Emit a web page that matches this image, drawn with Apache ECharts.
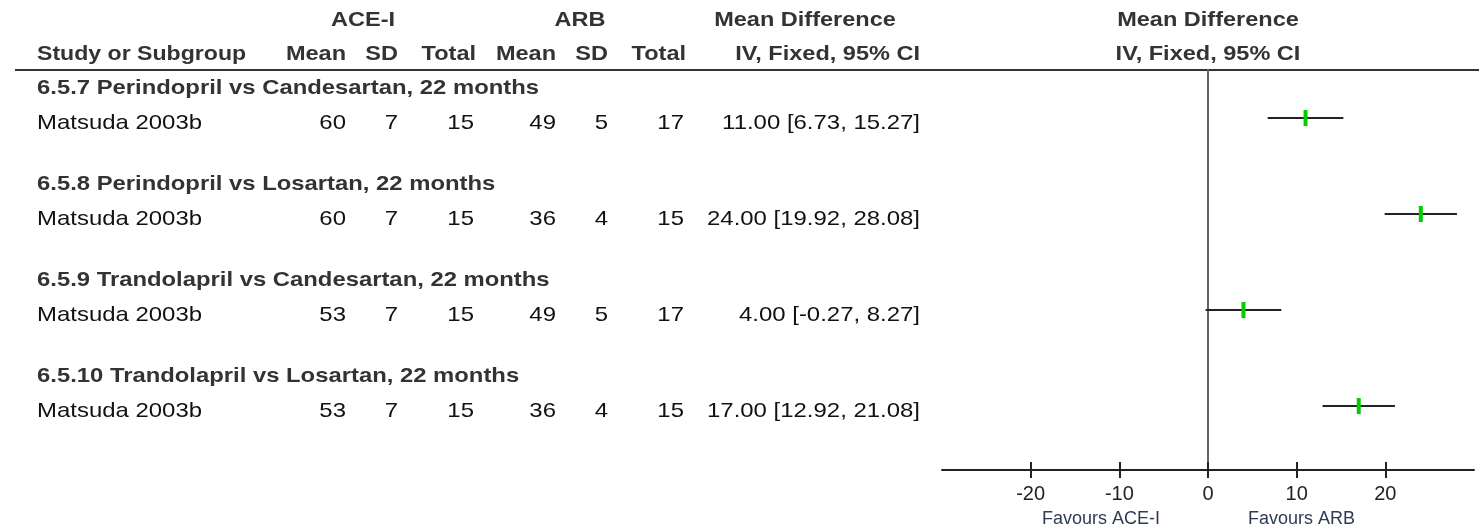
<!DOCTYPE html>
<html>
<head>
<meta charset="utf-8">
<script src="https://cdn.jsdelivr.net/npm/echarts@6/dist/echarts.min.js"></script>
<style>
  html, body { margin: 0; padding: 0; background: #fff; }
  #chart { width: 1479px; height: 532px; }
</style>
</head>
<body>
<div id="chart"></div>
<script>
// Forest plot data: ACE inhibitors vs ARBs, mean difference (IV, fixed, 95% CI)
const subgroups = [
  '6.5.7 Perindopril vs Candesartan, 22 months',
  '6.5.8 Perindopril vs Losartan, 22 months',
  '6.5.9 Trandolapril vs Candesartan, 22 months',
  '6.5.10 Trandolapril vs Losartan, 22 months'
];
const studies = ['Matsuda 2003b', 'Matsuda 2003b', 'Matsuda 2003b', 'Matsuda 2003b'];
const aceMean = [60, 60, 53, 53];
const aceSD = [7, 7, 7, 7];
const aceTotal = [15, 15, 15, 15];
const arbMean = [49, 36, 49, 36];
const arbSD = [5, 4, 5, 4];
const arbTotal = [17, 15, 17, 15];
const meanDiff = [11.00, 24.00, 4.00, 17.00];
const ciLow = [6.73, 19.92, -0.27, 12.92];
const ciHigh = [15.27, 28.08, 8.27, 21.08];
const tickValues = [-20, -10, 0, 10, 20];
const favourLabels = ['Favours ACE-I', 'Favours ARB'];

const FONT = "'Liberation Sans', Arial, sans-serif";
const HEAD_COLOR = '#333';
const TEXT_COLOR = '#111';

function ciText(i) {
  return meanDiff[i].toFixed(2) + ' [' + ciLow[i].toFixed(2) + ', ' + ciHigh[i].toFixed(2) + ']';
}

// text helper: stretched horizontally like the RevMan bitmap fonts
function txt(x, y, text, opt) {
  opt = opt || {};
  return {
    type: 'text',
    x: x, y: y,
    scaleX: opt.scaleX || (opt.bold ? 1.12 : 1.14),
    silent: true,
    style: {
      text: String(text),
      x: 0, y: 0,
      align: opt.align || 'left',
      verticalAlign: 'middle',
      fill: opt.color || (opt.bold ? HEAD_COLOR : TEXT_COLOR),
      font: (opt.bold ? 'bold ' : '') + (opt.size || 21) + 'px ' + FONT
    }
  };
}

// column right edges for table values
const colX = { aceMean: 346, aceSD: 398, aceTotal: 474, arbMean: 556, arbSD: 608, arbTotal: 684, ci: 920 };

const rowIndex = studies.map((s, i) => [0, i]);
const ciData = meanDiff.map((m, i) => [ciLow[i], ciHigh[i], m, i]);

const chart = echarts.init(document.getElementById('chart'), null, { renderer: 'canvas' });

const gridRect = { left: 942, right: 5, top: 70, bottom: 62 };

chart.setOption({
  animation: false,
  backgroundColor: '#fff',
  grid: [
    Object.assign({}, gridRect),
    Object.assign({}, gridRect)
  ],
  xAxis: [
    {
      type: 'value', gridIndex: 0, min: -30, max: 30, interval: 10,
      position: 'bottom',
      axisLine: { show: true, onZero: false, lineStyle: { color: '#222', width: 2 } },
      axisTick: { show: false },
      splitLine: { show: false },
      axisLabel: {
        customValues: tickValues,
        margin: 14,
        color: '#222',
        fontFamily: FONT,
        fontSize: 20
      }
    },
    {
      type: 'value', gridIndex: 1, min: -30, max: 30, interval: 10,
      position: 'bottom',
      offset: -8,
      axisLine: { show: false, onZero: false },
      axisTick: { show: true, customValues: tickValues, length: 16, lineStyle: { color: '#222', width: 2 } },
      splitLine: { show: false },
      axisLabel: { show: false }
    }
  ],
  yAxis: [
    {
      type: 'value', gridIndex: 0, inverse: true, min: -0.5, max: 11 / 3,
      axisLine: { show: true, onZero: true, lineStyle: { color: '#666', width: 2 } },
      axisTick: { show: false }, axisLabel: { show: false }, splitLine: { show: false }
    },
    {
      type: 'value', gridIndex: 1, inverse: true, min: -0.5, max: 11 / 3, show: false
    }
  ],
  graphic: [
    // header rule
    { type: 'line', silent: true, shape: { x1: 15, y1: 70, x2: 1479, y2: 70 }, style: { stroke: '#333', lineWidth: 2 } },
    txt(363, 20, 'ACE-I', { bold: true, align: 'center' }),
    txt(580, 20, 'ARB', { bold: true, align: 'center' }),
    txt(805, 20, 'Mean Difference', { bold: true, align: 'center' }),
    txt(1208, 20, 'Mean Difference', { bold: true, align: 'center' }),
    txt(37, 54, 'Study or Subgroup', { bold: true, scaleX: 1.1 }),
    txt(colX.aceMean, 54, 'Mean', { bold: true, align: 'right' }),
    txt(colX.aceSD, 54, 'SD', { bold: true, align: 'right' }),
    txt(colX.aceTotal + 2, 54, 'Total', { bold: true, align: 'right' }),
    txt(colX.arbMean, 54, 'Mean', { bold: true, align: 'right' }),
    txt(colX.arbSD, 54, 'SD', { bold: true, align: 'right' }),
    txt(colX.arbTotal + 2, 54, 'Total', { bold: true, align: 'right' }),
    txt(colX.ci, 54, 'IV, Fixed, 95% CI', { bold: true, align: 'right' }),
    txt(1208, 54, 'IV, Fixed, 95% CI', { bold: true, align: 'center' }),
    // favours labels under the axis
    txt(1160, 519, favourLabels[0], { align: 'right', size: 18, scaleX: 1.0, color: '#2e3b55' }),
    txt(1248, 519, favourLabels[1], { align: 'left', size: 18, scaleX: 1.0, color: '#2e3b55' })
  ],
  series: [
    {
      // table: subgroup heading + study row, placed on each group's y position
      type: 'custom',
      xAxisIndex: 0, yAxisIndex: 0,
      clip: false,
      silent: true,
      data: rowIndex,
      encode: { x: 0, y: 1 },
      renderItem: function (params, api) {
        const i = api.value(1);
        const yc = api.coord([0, i])[1];
        const yHead = yc - 30;
        const yRow = yc + 5;
        return {
          type: 'group',
          children: [
            txt(37, yHead, subgroups[i], { bold: true, scaleX: 1.135 }),
            txt(37, yRow, studies[i]),
            txt(colX.aceMean, yRow, aceMean[i], { align: 'right' }),
            txt(colX.aceSD, yRow, aceSD[i], { align: 'right' }),
            txt(colX.aceTotal, yRow, aceTotal[i], { align: 'right' }),
            txt(colX.arbMean, yRow, arbMean[i], { align: 'right' }),
            txt(colX.arbSD, yRow, arbSD[i], { align: 'right' }),
            txt(colX.arbTotal, yRow, arbTotal[i], { align: 'right' }),
            txt(colX.ci, yRow, ciText(i), { align: 'right' })
          ]
        };
      }
    },
    {
      // confidence interval whiskers with point estimate marker
      type: 'custom',
      xAxisIndex: 0, yAxisIndex: 0,
      silent: true,
      data: ciData,
      encode: { x: [0, 1, 2], y: 3 },
      renderItem: function (params, api) {
        const lo = api.coord([api.value(0), api.value(3)]);
        const hi = api.coord([api.value(1), api.value(3)]);
        const mid = api.coord([api.value(2), api.value(3)]);
        return {
          type: 'group',
          children: [
            { type: 'line', shape: { x1: lo[0], y1: lo[1], x2: hi[0], y2: hi[1] }, style: { stroke: '#222', lineWidth: 2 } },
            { type: 'rect', shape: { x: mid[0] - 2, y: mid[1] - 8, width: 4, height: 16 }, style: { fill: '#00cc00' } }
          ]
        };
      }
    }
  ]
});
</script>
</body>
</html>
